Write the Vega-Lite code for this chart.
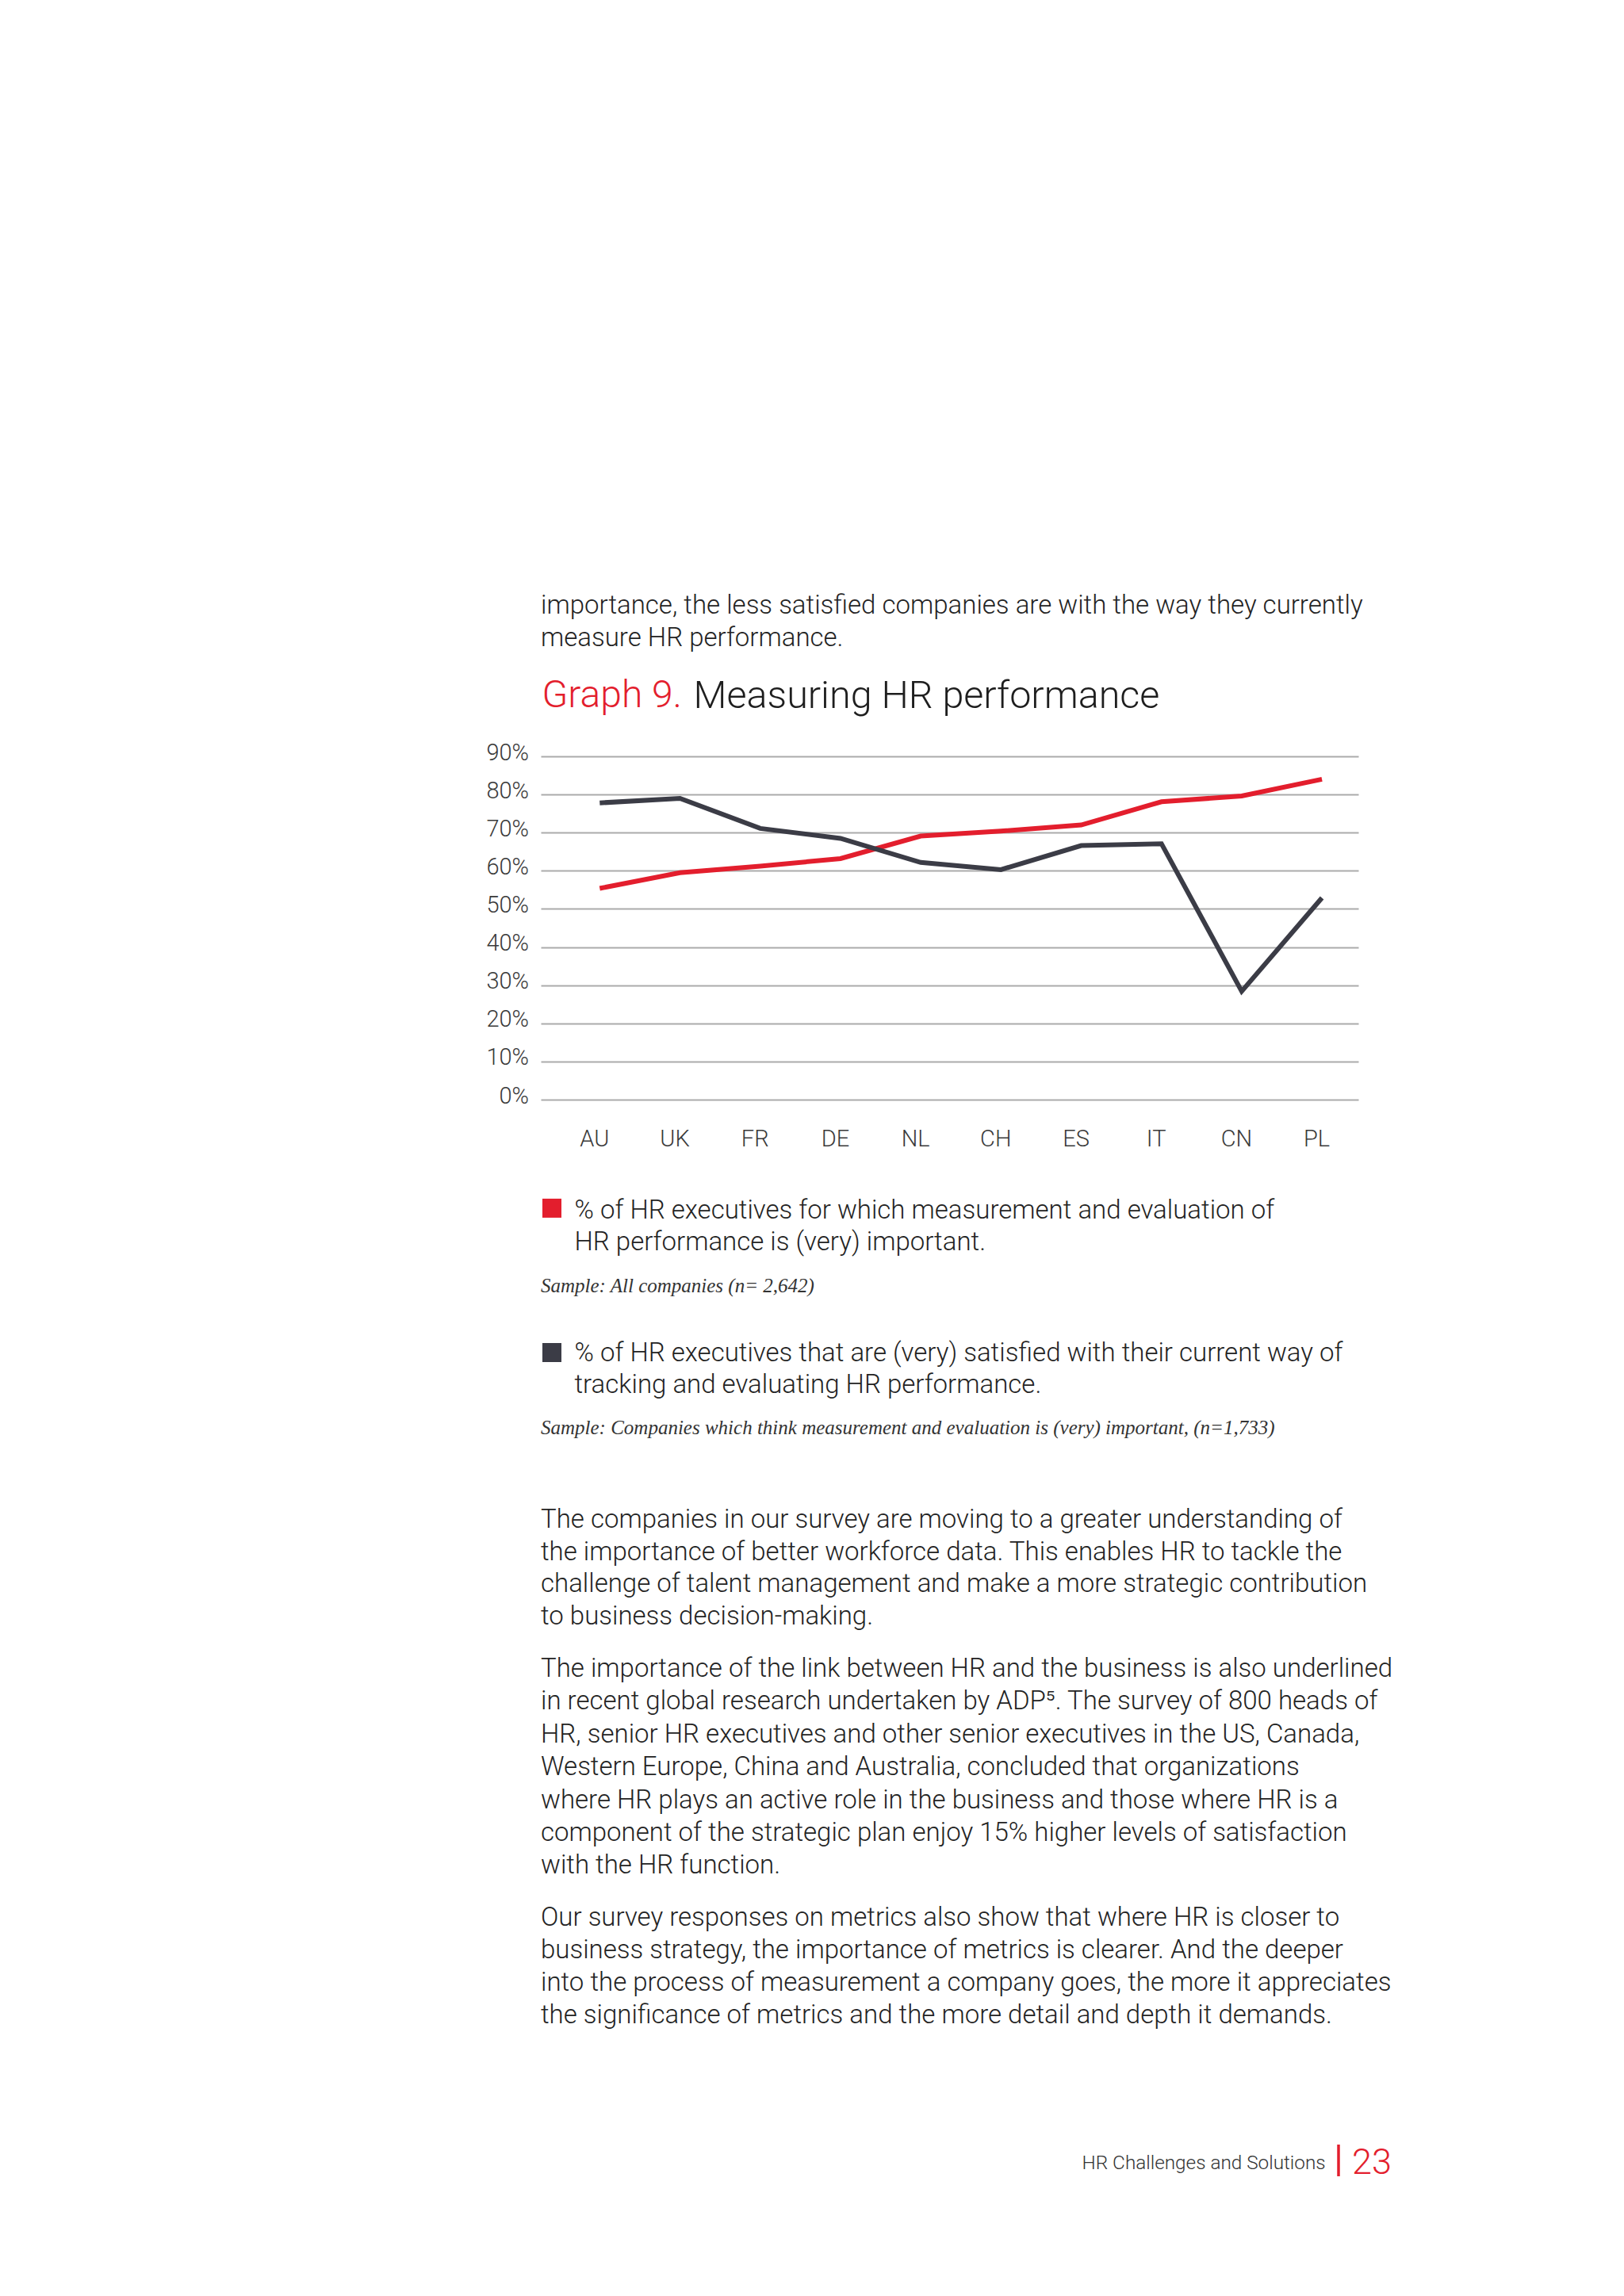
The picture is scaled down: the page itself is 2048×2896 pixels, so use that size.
{
  "$schema": "https://vega.github.io/schema/vega-lite/v6.json",
  "background": "white",
  "padding": {"left": 612, "top": 748, "right": 0, "bottom": 0},
  "spacing": 0,
  "bounds": "flush",
  "config": {
    "view": {"stroke": null},
    "text": {"font": "Roboto", "fontWeight": 300, "fontSize": 33, "color": "#232323", "align": "left", "baseline": "alphabetic"}
  },
  "vconcat": [
    {
      "width": 1073,
      "height": 180,
      "data": {"values": [
        {"line": 1, "text": "importance, the less satisfied companies are with the way they currently"},
        {"line": 2, "text": "measure HR performance."}
      ]},
      "mark": {"type": "text"},
      "encoding": {
        "x": {"datum": 0, "type": "quantitative", "scale": {"domain": [0, 1]}, "axis": null},
        "y": {"field": "line", "type": "ordinal", "axis": null, "scale": {"type": "point", "domain": [1, 2, 3, 4], "padding": 0.7113, "align": 0}},
        "text": {"field": "text"}
      }
    },
    {
      "width": 1031,
      "height": 433,
      "data": {"values": [
        {"country": "AU", "series": "important", "value": 0.554},
        {"country": "UK", "series": "important", "value": 0.595},
        {"country": "FR", "series": "important", "value": 0.612},
        {"country": "DE", "series": "important", "value": 0.632},
        {"country": "NL", "series": "important", "value": 0.691},
        {"country": "CH", "series": "important", "value": 0.704},
        {"country": "ES", "series": "important", "value": 0.72},
        {"country": "IT", "series": "important", "value": 0.781},
        {"country": "CN", "series": "important", "value": 0.796},
        {"country": "PL", "series": "important", "value": 0.84},
        {"country": "AU", "series": "satisfied", "value": 0.778},
        {"country": "UK", "series": "satisfied", "value": 0.79},
        {"country": "FR", "series": "satisfied", "value": 0.711},
        {"country": "DE", "series": "satisfied", "value": 0.685},
        {"country": "NL", "series": "satisfied", "value": 0.622},
        {"country": "CH", "series": "satisfied", "value": 0.603},
        {"country": "ES", "series": "satisfied", "value": 0.666},
        {"country": "IT", "series": "satisfied", "value": 0.671},
        {"country": "CN", "series": "satisfied", "value": 0.284},
        {"country": "PL", "series": "satisfied", "value": 0.529}
      ]},
      "mark": {"type": "line", "strokeWidth": 6, "strokeJoin": "miter", "strokeCap": "butt"},
      "encoding": {
        "x": {
          "field": "country", "type": "nominal",
          "sort": ["AU", "UK", "FR", "DE", "NL", "CH", "ES", "IT", "CN", "PL"],
          "scale": {"type": "point", "padding": 0.594, "align": 0.618},
          "axis": {
            "title": "Graph 9.", "titleX": 1, "titleY": -495.2, "titleAlign": "left", "titleAnchor": "start",
            "titleBaseline": "alphabetic", "titleColor": "#e31e2d", "titleFont": "Roboto", "titleFontSize": 48, "titleFontWeight": 300,
            "domain": false, "ticks": false, "tickSize": 0, "grid": false,
            "labelAngle": 0, "labelPadding": 58.5, "labelOffset": -7, "labelBaseline": "alphabetic", "labelFont": "Roboto", "labelFontSize": 29,
            "labelFontWeight": 300, "labelColor": "#3a3a3a"
          }
        },
        "y": {
          "field": "value", "type": "quantitative",
          "scale": {"domain": [0, 0.9], "nice": false},
          "axis": {
            "values": [0, 0.1, 0.2, 0.3, 0.4, 0.5, 0.6, 0.7, 0.8, 0.9], "format": ".0%",
            "title": "Measuring HR performance", "titleX": 192, "titleY": -61.7, "titleAngle": 0, "titleAlign": "left", "titleAnchor": "start",
            "titleBaseline": "alphabetic", "titleColor": "#1e1e1e", "titleFont": "Roboto", "titleFontSize": 48.5, "titleFontWeight": 300,
            "domain": false, "ticks": false, "tickSize": 0, "grid": true, "gridColor": "#ababab", "gridWidth": 2,
            "labelPadding": 15.5, "labelOffset": 4, "labelBaseline": "alphabetic", "labelFont": "Roboto", "labelFontSize": 29,
            "labelFontWeight": 300, "labelColor": "#3a3a3a"
          }
        },
        "color": {
          "field": "series", "type": "nominal",
          "scale": {"domain": ["important", "satisfied"], "range": ["#e31e2d", "#3b3c46"]},
          "legend": null
        }
      }
    },
    {
      "width": 1073,
      "height": 242.7,
      "data": {"values": [
        {"line": 1, "text": "% of HR executives for which measurement and evaluation of"},
        {"line": 2, "text": "HR performance is (very) important."}
      ]},
      "encoding": {
        "x": {"datum": 0, "type": "quantitative", "scale": {"domain": [0, 1]}, "axis": null},
        "y": {"field": "line", "type": "ordinal", "axis": null, "scale": {"type": "point", "domain": [-2, -1, 0, 1, 2, 3], "padding": 0.53375, "align": 0.7119}}
      },
      "layer": [
        {"mark": {"type": "text", "dx": 42.5}, "encoding": {"text": {"field": "text"}}},
        {"transform": [{"filter": "datum.line == 1"}],
         "mark": {"type": "point", "shape": "square", "filled": true, "size": 576, "opacity": 1, "color": "#e31e2d", "xOffset": 14, "yOffset": -13.5}}
      ]
    },
    {
      "width": 1073,
      "height": 86.7,
      "data": {"values": [{"line": 1, "text": "Sample: All companies (n= 2,642)"}]},
      "mark": {"type": "text", "font": "Liberation Serif", "fontStyle": "italic", "fontWeight": 400, "fontSize": 25, "color": "#333333"},
      "encoding": {
        "x": {"datum": 0, "type": "quantitative", "scale": {"domain": [0, 1]}, "axis": null},
        "y": {"field": "line", "type": "ordinal", "axis": null, "scale": {"type": "point", "padding": 1, "align": 0}},
        "text": {"field": "text"}
      }
    },
    {
      "width": 1073,
      "height": 91.6,
      "data": {"values": [
        {"line": 1, "text": "% of HR executives that are (very) satisfied with their current way of"},
        {"line": 2, "text": "tracking and evaluating HR performance."}
      ]},
      "encoding": {
        "x": {"datum": 0, "type": "quantitative", "scale": {"domain": [0, 1]}, "axis": null},
        "y": {"field": "line", "type": "ordinal", "axis": null, "scale": {"type": "point", "padding": 0.645, "align": 0}}
      },
      "layer": [
        {"mark": {"type": "text", "dx": 42.5}, "encoding": {"text": {"field": "text"}}},
        {"transform": [{"filter": "datum.line == 1"}],
         "mark": {"type": "point", "shape": "square", "filled": true, "size": 576, "opacity": 1, "color": "#3b3c46", "xOffset": 14, "yOffset": -11}}
      ]
    },
    {
      "width": 1073,
      "height": 117.4,
      "data": {"values": [{"line": 1, "text": "Sample:  Companies which think measurement and evaluation is (very) important, (n=1,733)"}]},
      "mark": {"type": "text", "font": "Liberation Serif", "fontStyle": "italic", "fontWeight": 400, "fontSize": 25, "color": "#333333"},
      "encoding": {
        "x": {"datum": 0, "type": "quantitative", "scale": {"domain": [0, 1]}, "axis": null},
        "y": {"field": "line", "type": "ordinal", "axis": null, "scale": {"type": "point", "padding": 1, "align": 0}},
        "text": {"field": "text"}
      }
    },
    {
      "width": 1073,
      "height": 187.6,
      "data": {"values": [
        {"line": 1, "text": "The companies in our survey are moving to a greater understanding of"},
        {"line": 2, "text": "the importance of better workforce data. This enables HR to tackle the"},
        {"line": 3, "text": "challenge of talent management and make a more strategic contribution"},
        {"line": 4, "text": "to business decision-making."}
      ]},
      "mark": {"type": "text"},
      "encoding": {
        "x": {"datum": 0, "type": "quantitative", "scale": {"domain": [0, 1]}, "axis": null},
        "y": {"field": "line", "type": "ordinal", "axis": null, "scale": {"type": "point", "padding": 0.81415, "align": 0}},
        "text": {"field": "text"}
      }
    },
    {
      "width": 1073,
      "height": 314,
      "data": {"values": [
        {"line": 1, "text": "The importance of the link between HR and the business is also underlined"},
        {"line": 2, "text": "in recent global research undertaken by ADP⁵. The survey of 800 heads of"},
        {"line": 3, "text": "HR, senior HR executives and other senior executives in the US, Canada,"},
        {"line": 4, "text": "Western Europe, China and Australia, concluded that organizations"},
        {"line": 5, "text": "where HR plays an active role in the business and those where HR is a"},
        {"line": 6, "text": "component of the strategic plan enjoy 15% higher levels of satisfaction"},
        {"line": 7, "text": "with the HR function."}
      ]},
      "mark": {"type": "text"},
      "encoding": {
        "x": {"datum": 0, "type": "quantitative", "scale": {"domain": [0, 1]}, "axis": null},
        "y": {"field": "line", "type": "ordinal", "axis": null, "scale": {"type": "point", "padding": 0.79227, "align": 0}},
        "text": {"field": "text"}
      }
    },
    {
      "width": 1073,
      "height": 275.4,
      "data": {"values": [
        {"line": 1, "text": "Our survey responses on metrics also show that where HR is closer to"},
        {"line": 2, "text": "business strategy, the importance of metrics is clearer. And the deeper"},
        {"line": 3, "text": "into the process of measurement a company goes, the more it appreciates"},
        {"line": 4, "text": "the significance of metrics and the more detail and depth it demands."}
      ]},
      "mark": {"type": "text"},
      "encoding": {
        "x": {"datum": 0, "type": "quantitative", "scale": {"domain": [0, 1]}, "axis": null},
        "y": {"field": "line", "type": "ordinal", "axis": null, "scale": {"type": "point", "domain": [1, 2, 3, 4, 5, 6, 7], "padding": 0.3667, "align": 0}},
        "text": {"field": "text"}
      }
    },
    {
      "width": 1073,
      "height": 40,
      "data": {"values": [
        {"kind": "label", "text": "HR Challenges and Solutions"},
        {"kind": "page", "text": "23"}
      ]},
      "encoding": {
        "x": {"datum": 1, "type": "quantitative", "scale": {"domain": [0, 1]}, "axis": null}
      },
      "layer": [
        {"transform": [{"filter": "datum.kind == 'label'"}],
         "mark": {"type": "text", "align": "right", "dx": -83.4, "dy": 10.6, "fontSize": 24.3, "color": "#333333"},
         "encoding": {"text": {"field": "text"}}},
        {"transform": [{"filter": "datum.kind == 'page'"}],
         "mark": {"type": "text", "align": "right", "dy": 17.3, "fontSize": 45, "color": "#e31e2d"},
         "encoding": {"text": {"field": "text"}}},
        {"transform": [{"filter": "datum.kind == 'page'"}],
         "mark": {"type": "rule", "color": "#e31e2d", "strokeWidth": 3.5, "xOffset": -67},
         "encoding": {}}
      ]
    }
  ]
}
